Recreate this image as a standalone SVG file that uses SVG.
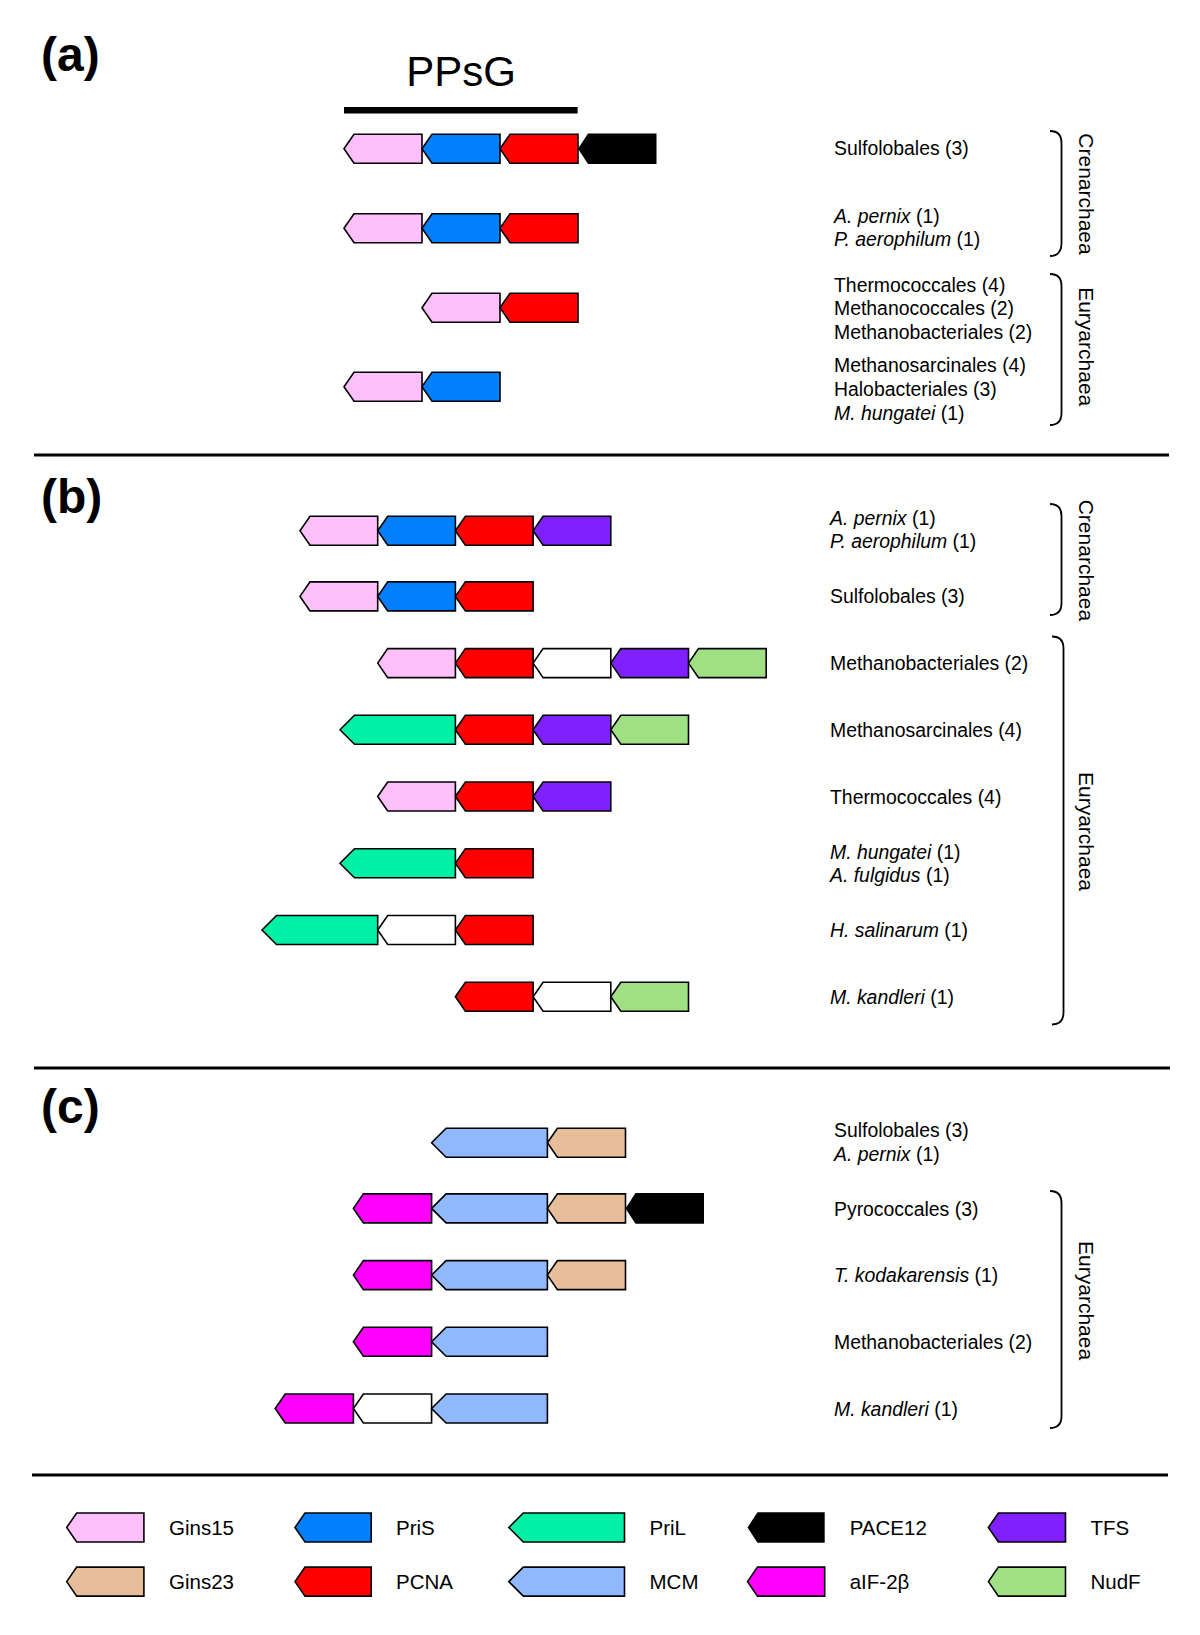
<svg xmlns="http://www.w3.org/2000/svg" width="1200" height="1635" viewBox="0 0 1200 1635">
<style>
text{font-family:"Liberation Sans",Arial,Helvetica,sans-serif;fill:#000}
.lbl{font-size:19.4px}
.vl{font-size:21px}
.leg{font-size:20.5px}
.sec{font-size:48px;font-weight:bold}
.it{font-style:italic}
.g{stroke:#000;stroke-width:1.6;stroke-linejoin:miter}
.gins15{fill:#FFBFFA}
.pris{fill:#0080FF}
.pcna{fill:#FF0000}
.pace{fill:#000}
.tfs{fill:#8020FF}
.nudf{fill:#A0E084}
.pril{fill:#00F0A5}
.mcm{fill:#90B8FF}
.gins23{fill:#E8BE9A}
.aif{fill:#FF00FF}
.wht{fill:#FFFFFF}
.sep{stroke:#000;stroke-width:3}
.br{fill:none;stroke:#000;stroke-width:1.8}
</style>

<g id="separators">
<line class="sep" x1="34" y1="455" x2="1169" y2="455"/>
<line class="sep" x1="34" y1="1068" x2="1170" y2="1068"/>
<line class="sep" x1="32" y1="1475" x2="1168" y2="1475"/>
</g>

<g id="section-labels">
<text class="sec" x="41" y="71">(a)</text>
<text class="sec" x="41" y="513">(b)</text>
<text class="sec" x="41" y="1123">(c)</text>
</g>

<g id="ppsg">
<text x="461" y="86" font-size="42" text-anchor="middle">PPsG</text>
<rect x="344" y="107" width="233.6" height="6.5" fill="#000"/>
</g>

<g id="section-a-genes">
<g id="a-row1">
<polygon class="g gins15" points="344,148.8 354,134.3 422,134.3 422,163.3 354,163.3"/>
<polygon class="g pris" points="422,148.8 432,134.3 500,134.3 500,163.3 432,163.3"/>
<polygon class="g pcna" points="500,148.8 510,134.3 578,134.3 578,163.3 510,163.3"/>
<polygon class="pace" points="578,148.8 588,133.5 656.5,133.5 656.5,164.1 588,164.1"/>
</g>
<g id="a-row2">
<polygon class="g gins15" points="344,228.2 354,213.7 422,213.7 422,242.7 354,242.7"/>
<polygon class="g pris" points="422,228.2 432,213.7 500,213.7 500,242.7 432,242.7"/>
<polygon class="g pcna" points="500,228.2 510,213.7 578,213.7 578,242.7 510,242.7"/>
</g>
<g id="a-row3">
<polygon class="g gins15" points="422,307.7 432,293.2 500,293.2 500,322.2 432,322.2"/>
<polygon class="g pcna" points="500,307.7 510,293.2 578,293.2 578,322.2 510,322.2"/>
</g>
<g id="a-row4">
<polygon class="g gins15" points="344,386.8 354,372.3 422,372.3 422,401.3 354,401.3"/>
<polygon class="g pris" points="422,386.8 432,372.3 500,372.3 500,401.3 432,401.3"/>
</g>
</g>

<g id="section-a-labels">
<text class="lbl" x="834" y="155">Sulfolobales (3)</text>
<text class="lbl" x="834" y="223"><tspan class="it">A. pernix</tspan> (1)</text>
<text class="lbl" x="834" y="246"><tspan class="it">P. aerophilum</tspan> (1)</text>
<text class="lbl" x="834" y="292">Thermococcales (4)</text>
<text class="lbl" x="834" y="315">Methanococcales (2)</text>
<text class="lbl" x="834" y="339">Methanobacteriales (2)</text>
<text class="lbl" x="834" y="372">Methanosarcinales (4)</text>
<text class="lbl" x="834" y="396">Halobacteriales (3)</text>
<text class="lbl" x="834" y="420"><tspan class="it">M. hungatei</tspan> (1)</text>
</g>

<g id="section-b-genes">
<g id="b-row1">
<polygon class="g gins15" points="300,530.7 310,516.2 377.7,516.2 377.7,545.2 310,545.2"/>
<polygon class="g pris" points="377.7,530.7 387.7,516.2 455.4,516.2 455.4,545.2 387.7,545.2"/>
<polygon class="g pcna" points="455.4,530.7 465.4,516.2 533.1,516.2 533.1,545.2 465.4,545.2"/>
<polygon class="g tfs" points="533.1,530.7 543.1,516.2 610.8,516.2 610.8,545.2 543.1,545.2"/>
</g>
<g id="b-row2">
<polygon class="g gins15" points="300,596.4 310,581.9 377.7,581.9 377.7,610.9 310,610.9"/>
<polygon class="g pris" points="377.7,596.4 387.7,581.9 455.4,581.9 455.4,610.9 387.7,610.9"/>
<polygon class="g pcna" points="455.4,596.4 465.4,581.9 533.1,581.9 533.1,610.9 465.4,610.9"/>
</g>
<g id="b-row3">
<polygon class="g gins15" points="377.7,663.1 387.7,648.6 455.4,648.6 455.4,677.6 387.7,677.6"/>
<polygon class="g pcna" points="455.4,663.1 465.4,648.6 533.1,648.6 533.1,677.6 465.4,677.6"/>
<polygon class="g wht" points="533.1,663.1 543.1,648.6 610.8,648.6 610.8,677.6 543.1,677.6"/>
<polygon class="g tfs" points="610.8,663.1 620.8,648.6 688.5,648.6 688.5,677.6 620.8,677.6"/>
<polygon class="g nudf" points="688.5,663.1 698.5,648.6 766.2,648.6 766.2,677.6 698.5,677.6"/>
</g>
<g id="b-row4">
<polygon class="g pril" points="340,729.8 354.5,715.3 455.4,715.3 455.4,744.3 354.5,744.3"/>
<polygon class="g pcna" points="455.4,729.8 465.4,715.3 533.1,715.3 533.1,744.3 465.4,744.3"/>
<polygon class="g tfs" points="533.1,729.8 543.1,715.3 610.8,715.3 610.8,744.3 543.1,744.3"/>
<polygon class="g nudf" points="610.8,729.8 620.8,715.3 688.5,715.3 688.5,744.3 620.8,744.3"/>
</g>
<g id="b-row5">
<polygon class="g gins15" points="377.7,796.5 387.7,782 455.4,782 455.4,811 387.7,811"/>
<polygon class="g pcna" points="455.4,796.5 465.4,782 533.1,782 533.1,811 465.4,811"/>
<polygon class="g tfs" points="533.1,796.5 543.1,782 610.8,782 610.8,811 543.1,811"/>
</g>
<g id="b-row6">
<polygon class="g pril" points="340,863.3 354.5,848.8 455.4,848.8 455.4,877.8 354.5,877.8"/>
<polygon class="g pcna" points="455.4,863.3 465.4,848.8 533.1,848.8 533.1,877.8 465.4,877.8"/>
</g>
<g id="b-row7">
<polygon class="g pril" points="262,930 276.5,915.5 377.7,915.5 377.7,944.5 276.5,944.5"/>
<polygon class="g wht" points="377.7,930 387.7,915.5 455.4,915.5 455.4,944.5 387.7,944.5"/>
<polygon class="g pcna" points="455.4,930 465.4,915.5 533.1,915.5 533.1,944.5 465.4,944.5"/>
</g>
<g id="b-row8">
<polygon class="g pcna" points="455.4,996.7 465.4,982.2 533.1,982.2 533.1,1011.2 465.4,1011.2"/>
<polygon class="g wht" points="533.1,996.7 543.1,982.2 610.8,982.2 610.8,1011.2 543.1,1011.2"/>
<polygon class="g nudf" points="610.8,996.7 620.8,982.2 688.5,982.2 688.5,1011.2 620.8,1011.2"/>
</g>
</g>

<g id="section-b-labels">
<text class="lbl" x="830" y="525"><tspan class="it">A. pernix</tspan> (1)</text>
<text class="lbl" x="830" y="548"><tspan class="it">P. aerophilum</tspan> (1)</text>
<text class="lbl" x="830" y="603">Sulfolobales (3)</text>
<text class="lbl" x="830" y="670">Methanobacteriales (2)</text>
<text class="lbl" x="830" y="737">Methanosarcinales (4)</text>
<text class="lbl" x="830" y="803.5">Thermococcales (4)</text>
<text class="lbl" x="830" y="859"><tspan class="it">M. hungatei</tspan> (1)</text>
<text class="lbl" x="830" y="882"><tspan class="it">A. fulgidus</tspan> (1)</text>
<text class="lbl" x="830" y="937"><tspan class="it">H. salinarum</tspan> (1)</text>
<text class="lbl" x="830" y="1004"><tspan class="it">M. kandleri</tspan> (1)</text>
</g>

<g id="section-c-genes">
<g id="c-row1">
<polygon class="g mcm" points="431.6,1142.7 446.1,1128.2 547.4,1128.2 547.4,1157.2 446.1,1157.2"/>
<polygon class="g gins23" points="547.4,1142.7 557.4,1128.2 625.5,1128.2 625.5,1157.2 557.4,1157.2"/>
</g>
<g id="c-row2">
<polygon class="g aif" points="353.4,1208.4 363.4,1193.9 431.6,1193.9 431.6,1222.9 363.4,1222.9"/>
<polygon class="g mcm" points="431.6,1208.4 446.1,1193.9 547.4,1193.9 547.4,1222.9 446.1,1222.9"/>
<polygon class="g gins23" points="547.4,1208.4 557.4,1193.9 625.5,1193.9 625.5,1222.9 557.4,1222.9"/>
<polygon class="pace" points="625.5,1208.4 635.5,1193.1 704,1193.1 704,1223.7 635.5,1223.7"/>
</g>
<g id="c-row3">
<polygon class="g aif" points="353.4,1275.1 363.4,1260.6 431.6,1260.6 431.6,1289.6 363.4,1289.6"/>
<polygon class="g mcm" points="431.6,1275.1 446.1,1260.6 547.4,1260.6 547.4,1289.6 446.1,1289.6"/>
<polygon class="g gins23" points="547.4,1275.1 557.4,1260.6 625.5,1260.6 625.5,1289.6 557.4,1289.6"/>
</g>
<g id="c-row4">
<polygon class="g aif" points="353.4,1341.8 363.4,1327.3 431.6,1327.3 431.6,1356.3 363.4,1356.3"/>
<polygon class="g mcm" points="431.6,1341.8 446.1,1327.3 547.4,1327.3 547.4,1356.3 446.1,1356.3"/>
</g>
<g id="c-row5">
<polygon class="g aif" points="275.2,1408.5 285.2,1394 353.4,1394 353.4,1423 285.2,1423"/>
<polygon class="g wht" points="353.4,1408.5 363.4,1394 431.6,1394 431.6,1423 363.4,1423"/>
<polygon class="g mcm" points="431.6,1408.5 446.1,1394 547.4,1394 547.4,1423 446.1,1423"/>
</g>
</g>

<g id="section-c-labels">
<text class="lbl" x="834" y="1137">Sulfolobales (3)</text>
<text class="lbl" x="834" y="1161"><tspan class="it">A. pernix</tspan> (1)</text>
<text class="lbl" x="834" y="1215.5">Pyrococcales (3)</text>
<text class="lbl" x="834" y="1282"><tspan class="it">T. kodakarensis</tspan> (1)</text>
<text class="lbl" x="834" y="1349">Methanobacteriales (2)</text>
<text class="lbl" x="834" y="1415.5"><tspan class="it">M. kandleri</tspan> (1)</text>
</g>

<g id="connectors">
<path class="br" d="M1050,131 C1058,131 1061.5,135 1061.5,143 L1061.5,243 C1061.5,251 1058,256 1050,256"/>
<path class="br" d="M1050,274 C1058,274 1061.5,278 1061.5,286 L1061.5,413 C1061.5,421 1058,425 1050,425"/>
<path class="br" d="M1050,504 C1058,504 1061.5,508 1061.5,516 L1061.5,603 C1061.5,611 1058,615 1050,615"/>
<path class="br" d="M1052,636.5 C1060,636.5 1063.5,640.5 1063.5,648.5 L1063.5,1012.5 C1063.5,1020.5 1060,1024.5 1052,1024.5"/>
<path class="br" d="M1050,1191 C1058,1191 1061.5,1195 1061.5,1203 L1061.5,1416 C1061.5,1424 1058,1428 1050,1428"/>
</g>

<g id="clade-labels">
<text class="vl" text-anchor="middle" transform="translate(1079,194) rotate(90)">Crenarchaea</text>
<text class="vl" text-anchor="middle" transform="translate(1079,346.7) rotate(90)">Euryarchaea</text>
<text class="vl" text-anchor="middle" transform="translate(1079,560.4) rotate(90)">Crenarchaea</text>
<text class="vl" text-anchor="middle" transform="translate(1079,831.5) rotate(90)">Euryarchaea</text>
<text class="vl" text-anchor="middle" transform="translate(1079,1300.6) rotate(90)">Euryarchaea</text>
</g>

<g id="legend">
<g id="leg-gins15"><polygon class="g gins15" points="66.7,1527.5 76.7,1513 143.9,1513 143.9,1542 76.7,1542"/><text class="leg" x="169" y="1534.5">Gins15</text></g>
<g id="leg-pris"><polygon class="g pris" points="295,1527.5 305,1513 371.2,1513 371.2,1542 305,1542"/><text class="leg" x="396" y="1534.5">PriS</text></g>
<g id="leg-pril"><polygon class="g pril" points="508.8,1527.5 523.3,1513 624.5,1513 624.5,1542 523.3,1542"/><text class="leg" x="649.5" y="1534.5">PriL</text></g>
<g id="leg-pace12"><polygon class="pace" points="747.5,1527.5 757.5,1512.2 824.7,1512.2 824.7,1542.8 757.5,1542.8"/><text class="leg" x="849.7" y="1534.5">PACE12</text></g>
<g id="leg-tfs"><polygon class="g tfs" points="988.4,1527.5 998.4,1513 1065.5,1513 1065.5,1542 998.4,1542"/><text class="leg" x="1090.5" y="1534.5">TFS</text></g>
<g id="leg-gins23"><polygon class="g gins23" points="66.7,1581.6 76.7,1567.1 143.9,1567.1 143.9,1596.1 76.7,1596.1"/><text class="leg" x="169" y="1588.6">Gins23</text></g>
<g id="leg-pcna"><polygon class="g pcna" points="295,1581.6 305,1567.1 371.2,1567.1 371.2,1596.1 305,1596.1"/><text class="leg" x="396" y="1588.6">PCNA</text></g>
<g id="leg-mcm"><polygon class="g mcm" points="508.8,1581.6 523.3,1567.1 624.5,1567.1 624.5,1596.1 523.3,1596.1"/><text class="leg" x="649.5" y="1588.6">MCM</text></g>
<g id="leg-aif"><polygon class="g aif" points="747.5,1581.6 757.5,1567.1 824.7,1567.1 824.7,1596.1 757.5,1596.1"/><text class="leg" x="849.7" y="1588.6">aIF-2β</text></g>
<g id="leg-nudf"><polygon class="g nudf" points="988.4,1581.6 998.4,1567.1 1065.5,1567.1 1065.5,1596.1 998.4,1596.1"/><text class="leg" x="1090.5" y="1588.6">NudF</text></g>
</g>
</svg>
